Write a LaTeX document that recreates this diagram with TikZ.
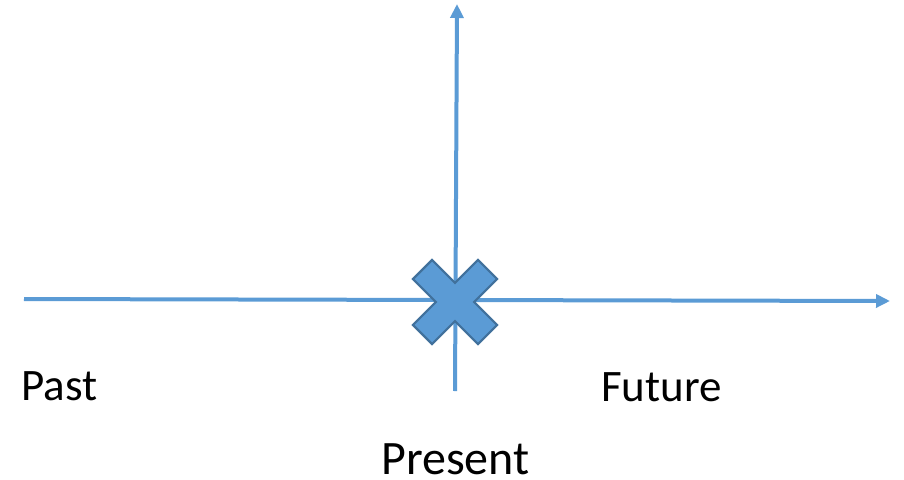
\documentclass[tikz,border=0pt]{standalone}
\usepackage{fontspec}
\setmainfont{Carlito}
\usetikzlibrary{arrows.meta}
\definecolor{axisblue}{HTML}{5B9BD5}
\definecolor{edgeblue}{HTML}{41719C}
\begin{document}
\begin{tikzpicture}[x=1pt,y=-1pt,
  axis/.style={draw=axisblue,line width=4pt,-{Triangle[length=14pt,width=13pt]}},
  lbl/.style={font=\fontsize{45}{47}\selectfont,text=black,inner sep=0pt},
  biglbl/.style={lbl,font=\fontsize{48}{50}\selectfont},
  xmark/.style={fill=axisblue,draw=edgeblue,line width=2.2pt,line join=miter}]
\useasboundingbox (0,0) rectangle (904,479);
\coordinate (hstart) at (24,299);
\coordinate (hend) at (890,301);
\coordinate (vstart) at (455,391);
\coordinate (vend) at (457,4);
\draw[axis] (hstart) -- (hend);
\draw[axis] (vstart) -- (vend);
\coordinate (c) at (455,302);
\draw[xmark,shift={(c)},rotate=45]
  (13.5,13.5) -- (46,13.5) -- (46,-13.5) -- (13.5,-13.5) -- (13.5,-46) -- (-13.5,-46) -- (-13.5,-13.5)
  -- (-46,-13.5) -- (-46,13.5) -- (-13.5,13.5) -- (-13.5,46) -- (13.5,46) -- cycle;
\node[lbl,anchor=base west] (past) at (21,400) {Past};
\node[lbl,anchor=base west] (future) at (601,401) {Future};
\node[biglbl,anchor=base west] (present) at (381,474) {Present};
\end{tikzpicture}
\end{document}
